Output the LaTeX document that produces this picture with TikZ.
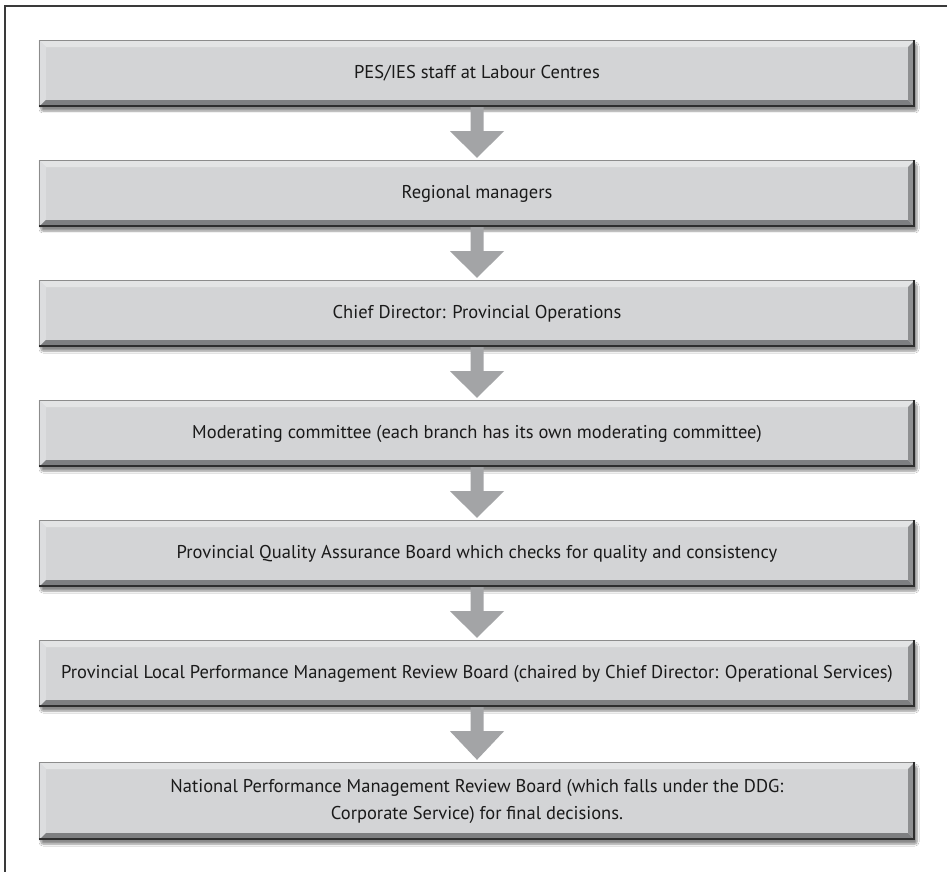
\documentclass[tikz,border=0pt]{standalone}
\usepackage{fontspec}
\setmainfont{PT Sans}
\usetikzlibrary{calc,shadows.blur}
\definecolor{boxfill}{HTML}{D3D4D6}
\definecolor{bevtop}{HTML}{E3E4E5}
\definecolor{bevleft}{HTML}{DCDDDF}
\definecolor{bevbot}{HTML}{7E7F81}
\definecolor{bevright}{HTML}{8E8F91}
\definecolor{edgedark}{HTML}{2E2E2E}
\definecolor{edgelight}{HTML}{8C8C8C}
\definecolor{arrowcol}{HTML}{A3A4A6}
\definecolor{framecol}{HTML}{3A3A3A}
\definecolor{txt}{HTML}{1A1A1A}
\tikzset{
  x=1bp, y=-1bp,
  stagebox/.style={rectangle, inner sep=0pt, minimum width=876bp, minimum height=67bp,
    fill=boxfill, text=txt, align=center,
    font=\fontsize{18.5bp}{27bp}\selectfont,
    blur shadow={shadow xshift=2bp, shadow yshift=-4bp, shadow blur steps=6, shadow opacity=45, shadow blur extra rounding=2bp},
    path picture={
      \coordinate (nw) at (path picture bounding box.north west);
      \coordinate (ne) at (path picture bounding box.north east);
      \coordinate (sw) at (path picture bounding box.south west);
      \coordinate (se) at (path picture bounding box.south east);
      \fill[bevtop] (nw) -- (ne) -- ($(ne)+(-7,7)$) -- ($(nw)+(7,7)$) -- cycle;
      \fill[bevleft] (nw) -- (sw) -- ($(sw)+(7,-7)$) -- ($(nw)+(7,7)$) -- cycle;
      \fill[bevbot] (sw) -- (se) -- ($(se)+(-7,-7)$) -- ($(sw)+(7,-7)$) -- cycle;
      \fill[bevright] (ne) -- (se) -- ($(se)+(-7,-7)$) -- ($(ne)+(-7,7)$) -- cycle;
      \draw[edgelight, line width=1.2bp] ($(sw)+(0.6,0)$) -- ($(nw)+(0.6,0.6)$) -- ($(ne)+(0,0.6)$);
      \draw[edgedark, line width=2.4bp] ($(sw)+(0,-1.2)$) -- ($(se)+(-1.2,-1.2)$) -- ($(ne)+(-1.2,0)$);
    }},
  flowarrow/.style={fill=arrowcol}
}
\newcommand{\flowarr}[2]{%
  \fill[flowarrow] ($(#1.south)+(-6.5,0)$) -- ($(#1.south)+(6.5,0)$) -- ($(#1.south)+(6.5,24)$)
    -- ($(#1.south)+(27,24)$) -- ($(#2.north)+(0,-2)$) -- ($(#1.south)+(-27,24)$)
    -- ($(#1.south)+(-6.5,24)$) -- cycle;}
\begin{document}
\begin{tikzpicture}
\useasboundingbox (0,0) rectangle (947,872);
\fill[white] (0,0) rectangle (947,872);
\draw[framecol, line width=1.6bp] (5,872) -- (5,6) -- (947,6);
\node[stagebox] (s1) at (477,73.5) {PES/IES staff at Labour Centres};
\node[stagebox] (s2) at (477,193.5) {Regional managers};
\node[stagebox] (s3) at (477,313.5) {Chief Director: Provincial Operations};
\node[stagebox] (s4) at (477,433.5) {Moderating committee (each branch has its own moderating committee)};
\node[stagebox] (s5) at (477,553.5) {Provincial Quality Assurance Board which checks for quality and consistency};
\node[stagebox] (s6) at (477,673.5) {Provincial Local Performance Management Review Board (chaired by Chief Director: Operational Services)};
\node[stagebox, minimum height=78bp] (s7) at (477,801) {National Performance Management Review Board (which falls under the DDG:\\Corporate Service) for final decisions.};
\flowarr{s1}{s2}
\flowarr{s2}{s3}
\flowarr{s3}{s4}
\flowarr{s4}{s5}
\flowarr{s5}{s6}
\flowarr{s6}{s7}
\end{tikzpicture}
\end{document}
